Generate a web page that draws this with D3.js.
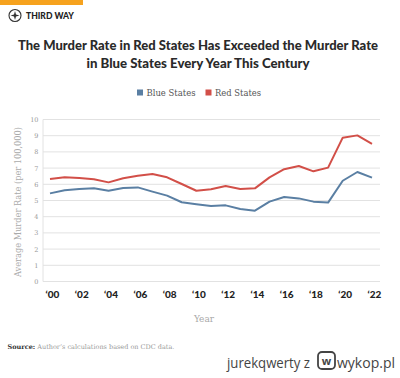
<!DOCTYPE html>
<html><head><meta charset="utf-8">
<script src="https://cdn.jsdelivr.net/npm/d3@7"></script>
<style>html,body{margin:0;padding:0;background:#fff;}svg{display:block;}</style>
</head><body>
<script>
const years = d3.range(2000, 2023);
const blueStates = [5.44,5.63,5.71,5.75,5.60,5.77,5.81,5.55,5.30,4.89,4.77,4.66,4.70,4.48,4.37,4.93,5.22,5.13,4.93,4.87,6.22,6.76,6.41];
const redStates  = [6.33,6.43,6.39,6.31,6.12,6.37,6.53,6.63,6.43,6.02,5.60,5.69,5.90,5.71,5.75,6.43,6.93,7.13,6.80,7.03,8.88,9.02,8.50];
const yTicks = [0,1,2,3,4,5,6,7,8,9,10];
const xTicks = [2000,2002,2004,2006,2008,2010,2012,2014,2016,2018,2020,2022];
const seriesNames = ["Blue States","Red States"];
const colors = ["#5a7fa3","#d24f48"];

const W = 400, H = 378;
const svg = d3.select("body").append("svg").attr("width", W).attr("height", H);

// brand bar
svg.append("rect").attr("x",0).attr("y",0).attr("width",83).attr("height",5).attr("fill","#f6a21e");
const logo = svg.append("g").attr("transform","translate(15,15.5)");
logo.append("circle").attr("r",6).attr("fill","none").attr("stroke","#333").attr("stroke-width",1.1);
logo.append("path").attr("d","M0,-4.5 L1,-1 L4.5,0 L1,1 L0,4.5 L-1,1 L-4.5,0 L-1,-1 Z").attr("fill","#333");
svg.append("text").attr("x",26).attr("y",19).attr("font-family","Lato, sans-serif").attr("font-weight","900")
  .attr("font-size",9).attr("fill","#222").attr("textLength",48).attr("lengthAdjust","spacingAndGlyphs").text("THIRD WAY");

// title
const title = svg.append("g").attr("font-family","Lato, sans-serif").attr("font-weight","900").attr("font-size",13).attr("fill","#2a2a2a").attr("text-anchor","middle");
title.append("text").attr("x",198).attr("y",50).attr("textLength",360).attr("lengthAdjust","spacingAndGlyphs").text("The Murder Rate in Red States Has Exceeded the Murder Rate");
title.append("text").attr("x",198).attr("y",68).attr("textLength",223).attr("lengthAdjust","spacingAndGlyphs").text("in Blue States Every Year This Century");

// legend
const legendX = [137, 205.5];
seriesNames.forEach((n,i)=>{
  svg.append("rect").attr("x",legendX[i]).attr("y",89.5).attr("width",6).attr("height",6).attr("fill",colors[i]);
  svg.append("text").attr("x",legendX[i]+9.5).attr("y",96).attr("font-family","'DejaVu Serif', serif")
    .attr("font-size",9.5).attr("fill","#555").attr("textLength", i===0?49:46).attr("lengthAdjust","spacingAndGlyphs").text(n);
});

// scales
const x = d3.scaleLinear().domain([2000,2022]).range([50,372]);
const y = d3.scaleLinear().domain([0,10]).range([281.5,119.5]);
const plotL = 43, plotR = 380;

// gridlines
svg.append("g").selectAll("line").data(yTicks).join("line")
  .attr("x1",plotL).attr("x2",plotR).attr("y1",d=>y(d)).attr("y2",d=>y(d))
  .attr("stroke","#e2e2e2").attr("stroke-width",1);
svg.append("line").attr("x1",plotL).attr("x2",plotL).attr("y1",y(10)).attr("y2",y(0)).attr("stroke","#e2e2e2");

// y axis labels
const yAxis = d3.axisLeft(y).tickValues(yTicks).tickSize(0).tickPadding(4);
const gy = svg.append("g").attr("transform",`translate(${plotL-0.5},0)`).call(yAxis);
gy.select(".domain").remove();
gy.selectAll("text").attr("font-family","'DejaVu Serif', serif").attr("font-size",6.5).attr("fill","#999");

// x axis labels
const fmt = d => "\u2018" + String(d).slice(2);
const xAxis = d3.axisBottom(x).tickValues(xTicks).tickSize(0).tickPadding(0).tickFormat(fmt);
const gx = svg.append("g").attr("transform",`translate(2,298)`).call(xAxis);
gx.select(".domain").remove();
gx.selectAll("text").attr("dy",0).attr("font-family","Lato, sans-serif").attr("font-weight","900").attr("font-size",10).attr("fill","#222");

// lines
const line = d3.line().x((d,i)=>x(years[i])).y(d=>y(d));
[blueStates, redStates].forEach((s,i)=>{
  svg.append("path").datum(s).attr("d",line).attr("fill","none").attr("stroke",colors[i])
    .attr("stroke-width",2).attr("stroke-linejoin","round");
});

// axis titles
svg.append("text").attr("transform","translate(21,202) rotate(-90)").attr("text-anchor","middle")
  .attr("font-family","'DejaVu Serif', serif").attr("font-size",9.5).attr("fill","#aaa")
  .attr("textLength",150).attr("lengthAdjust","spacingAndGlyphs").text("Average  Murder Rate (per 100,000)");
svg.append("text").attr("x",204).attr("y",322).attr("text-anchor","middle")
  .attr("font-family","'DejaVu Serif', serif").attr("font-size",9).attr("fill","#aaa").text("Year");

// source
const src = svg.append("text").attr("x",7.5).attr("y",349).attr("font-family","'DejaVu Serif', serif").attr("font-size",6.5);
src.append("tspan").attr("font-weight","bold").attr("fill","#333").text("Source:");
src.append("tspan").attr("fill","#999").text(" Author\u2019s calculations based on CDC data.");

// watermark
svg.append("text").attr("x",227).attr("y",368).attr("font-family","'Open Sans', sans-serif").attr("font-size",14.5)
  .attr("fill","#444").attr("textLength",83).attr("lengthAdjust","spacingAndGlyphs").text("jurekqwerty  z");
svg.append("rect").attr("x",318).attr("y",352).attr("width",17).attr("height",17).attr("rx",4)
  .attr("fill","none").attr("stroke","#444").attr("stroke-width",1.8);
svg.append("text").attr("x",326.5).attr("y",365).attr("text-anchor","middle").attr("font-family","'Open Sans', sans-serif")
  .attr("font-weight","bold").attr("font-size",11).attr("fill","#444").text("w");
svg.append("text").attr("x",337).attr("y",368).attr("font-family","'Open Sans', sans-serif").attr("font-size",14.5)
  .attr("fill","#444").attr("textLength",58).attr("lengthAdjust","spacingAndGlyphs").text("wykop.pl");
</script>
</body></html>
